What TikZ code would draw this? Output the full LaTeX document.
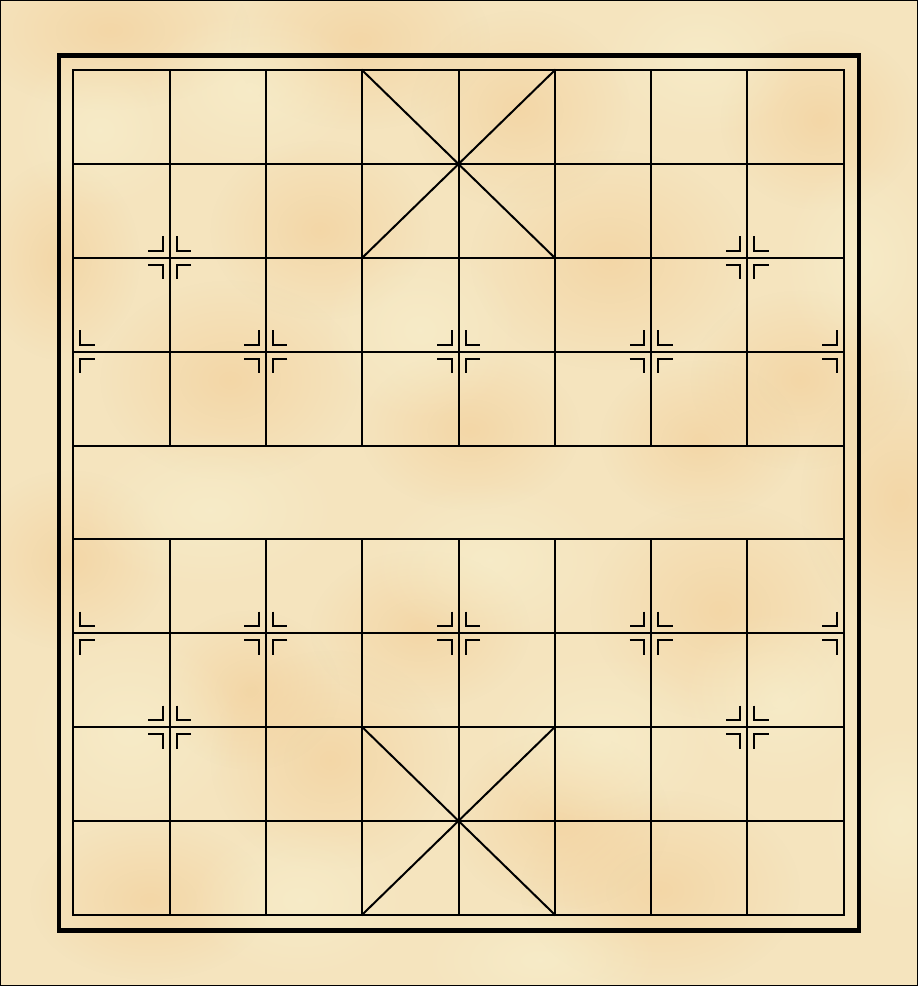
\documentclass[tikz,border=0pt]{standalone}
\usetikzlibrary{fadings}
\tikzfading[name=softblob, inner color=transparent!45, outer color=transparent!100]
\definecolor{parch}{HTML}{F5E4BE}
\definecolor{blobdark}{HTML}{F2CC94}
\definecolor{bloblight}{HTML}{F8F1CF}
\tikzset{
  gridline/.style={line width=2pt, line cap=rect},
  framethick/.style={line width=4.4pt},
  markline/.style={line width=2pt},
  darkblob/.style={fill=blobdark, path fading=softblob},
  lightblob/.style={fill=bloblight, path fading=softblob},
}
% marks: #1 = x, #2 = y (pixel coordinates)
\newcommand{\xqmarkL}[2]{%
  \draw[markline] ({#1-7},{#2-21.5}) -- ({#1-7},{#2-7}) -- ({#1-21.5},{#2-7});
  \draw[markline] ({#1-21.5},{#2+7}) -- ({#1-7},{#2+7}) -- ({#1-7},{#2+21.5});}
\newcommand{\xqmarkR}[2]{%
  \draw[markline] ({#1+7},{#2-21.5}) -- ({#1+7},{#2-7}) -- ({#1+21.5},{#2-7});
  \draw[markline] ({#1+21.5},{#2+7}) -- ({#1+7},{#2+7}) -- ({#1+7},{#2+21.5});}
\begin{document}
\begin{tikzpicture}[x=1pt,y=-1pt]
\useasboundingbox (0,0) rectangle (918,986);
\fill[parch] (0,0) rectangle (918,986);
\begin{scope}
\clip (0,0) rectangle (918,986);
% darker mottling
\foreach \bx/\by/\rx/\ry in {
  110/30/140/80, 360/40/130/90, 520/110/110/100, 610/260/140/110,
  230/380/130/100, 320/230/110/90, 720/610/130/110, 660/890/140/100,
  900/500/100/130, 330/760/120/110, 70/560/100/90, 470/430/110/80,
  800/380/110/90, 150/900/120/80, 820/120/100/90, 420/630/110/80,
  560/820/110/90, 60/260/80/100, 250/690/90/80, 700/440/100/80}
  \fill[darkblob] (\bx,\by) ellipse ({\rx pt} and {\ry pt});
% lighter mottling
\foreach \bx/\by/\rx/\ry in {
  210/510/130/80, 130/730/110/100, 490/560/120/80, 600/740/120/90,
  250/90/110/80, 700/60/100/80, 780/700/100/90, 100/130/90/80,
  420/330/100/90, 860/260/80/100, 300/900/110/80, 540/960/120/60,
  900/820/80/100}
  \fill[lightblob] (\bx,\by) ellipse ({\rx pt} and {\ry pt});
\end{scope}
% outer image border
\draw[line width=1pt] (0.5,0.5) rectangle (917.5,985.5);
% thick frame
\draw[framethick] (58.8,55.3) rectangle (858.8,930.3);
% grid
\def\xl{73.2} \def\xr{843.8} \def\yt{70.2} \def\yb{914.7}
\def\dx{96.325} \def\dy{93.833}
\foreach \j in {0,...,9}
  \draw[gridline] (\xl,{\yt+\j*\dy}) -- (\xr,{\yt+\j*\dy});
\draw[gridline] (\xl,\yt) -- (\xl,\yb);
\draw[gridline] (\xr,\yt) -- (\xr,\yb);
\foreach \i in {1,...,7} {
  \draw[gridline] ({\xl+\i*\dx},\yt) -- ({\xl+\i*\dx},{\yt+4*\dy});
  \draw[gridline] ({\xl+\i*\dx},{\yt+5*\dy}) -- ({\xl+\i*\dx},\yb);
}
% palaces
\draw[gridline] ({\xl+3*\dx},\yt) -- ({\xl+5*\dx},{\yt+2*\dy});
\draw[gridline] ({\xl+5*\dx},\yt) -- ({\xl+3*\dx},{\yt+2*\dy});
\draw[gridline] ({\xl+3*\dx},{\yt+7*\dy}) -- ({\xl+5*\dx},\yb);
\draw[gridline] ({\xl+5*\dx},{\yt+7*\dy}) -- ({\xl+3*\dx},\yb);
% cannon marks
\foreach \i/\j in {1/2,7/2,1/7,7/7} {
  \xqmarkL{\xl+\i*\dx}{\yt+\j*\dy}
  \xqmarkR{\xl+\i*\dx}{\yt+\j*\dy}
}
% soldier marks
\foreach \j in {3,6} {
  \xqmarkR{\xl}{\yt+\j*\dy}
  \foreach \i in {2,4,6} {
    \xqmarkL{\xl+\i*\dx}{\yt+\j*\dy}
    \xqmarkR{\xl+\i*\dx}{\yt+\j*\dy}
  }
  \xqmarkL{\xr}{\yt+\j*\dy}
}
\end{tikzpicture}
\end{document}
